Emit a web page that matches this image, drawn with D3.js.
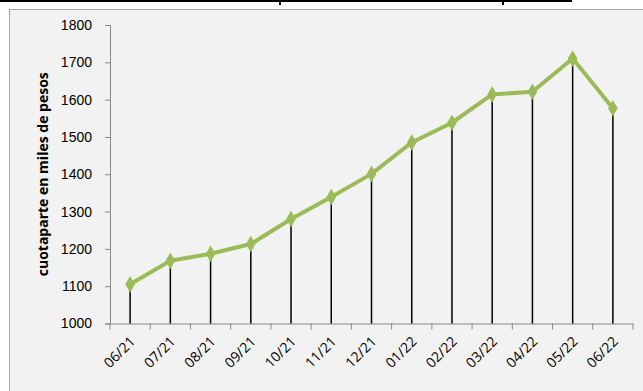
<!DOCTYPE html>
<html>
<head>
<meta charset="utf-8">
<script src="https://cdn.jsdelivr.net/npm/d3@7"></script>
<style>
  html, body { margin: 0; padding: 0; background: #ffffff; }
  svg { display: block; font-family: "Open Sans", "Noto Sans", sans-serif; }
</style>
</head>
<body>
<div id="chart"></div>
<script>
const months = ['06/21', '07/21', '08/21', '09/21', '10/21', '11/21', '12/21',
  '01/22', '02/22', '03/22', '04/22', '05/22', '06/22'];
const cuotaparte = [1105, 1168, 1187, 1213, 1280, 1339, 1401, 1485, 1538, 1614, 1621, 1710, 1577];
const yTicks = [1000, 1100, 1200, 1300, 1400, 1500, 1600, 1700, 1800];

const W = 643, H = 391;
const margin = { top: 25, right: 10, bottom: 67, left: 110 };

const svg = d3.select('#chart').append('svg')
  .attr('width', W)
  .attr('height', H);

// cut off title remains at the very top
svg.append('rect').attr('x', 0).attr('y', 0).attr('width', 572).attr('height', 2).attr('fill', '#000');
svg.append('rect').attr('x', 279).attr('y', 0).attr('width', 2).attr('height', 5).attr('fill', '#000');
svg.append('rect').attr('x', 502).attr('y', 0).attr('width', 2).attr('height', 5).attr('fill', '#000');

// chart frame
svg.append('rect')
  .attr('x', 9.5).attr('y', 9.5)
  .attr('width', W).attr('height', H)
  .attr('fill', '#f2f2f2')
  .attr('stroke', '#a6a6a6');

const width = 633 - margin.left;
const height = 323.5 - margin.top;

const g = svg.append('g')
  .attr('transform', `translate(${margin.left},${margin.top})`);

const x = d3.scaleBand()
  .domain(months)
  .range([0, width]);

const y = d3.scaleLinear()
  .domain([1000, 1800])
  .range([height, 0]);

// Y axis
const yAxis = g.append('g')
  .call(d3.axisLeft(y).tickValues(yTicks).tickSize(5).tickPadding(13).tickFormat(d3.format('d')));
yAxis.select('.domain').attr('stroke', '#868686');
yAxis.selectAll('line').attr('stroke', '#868686');
yAxis.selectAll('text')
  .style('fill', '#000')
  .style('font-size', '14px');

// X axis, ticks between categories
const xAxis = g.append('g')
  .attr('transform', `translate(0,${height})`)
  .call(d3.axisBottom(x).tickSize(0).tickFormat(''));
xAxis.select('.domain').attr('stroke', '#868686');
xAxis.selectAll('.tick').remove();

g.append('g')
  .selectAll('line')
  .data(d3.range(months.length + 1))
  .enter()
  .append('line')
  .attr('x1', i => i * x.step())
  .attr('x2', i => i * x.step())
  .attr('y1', height)
  .attr('y2', height + 6)
  .attr('stroke', '#868686');

// rotated month labels
g.append('g')
  .selectAll('text')
  .data(months)
  .enter()
  .append('text')
  .attr('transform', d => `translate(${x(d) + x.bandwidth() / 2 - 1},${height + 12}) rotate(-45)`)
  .attr('text-anchor', 'end')
  .attr('dy', '0.7em')
  .style('font-size', '14px')
  .style('fill', '#000')
  .text(d => d);

// drop lines
g.selectAll('.drop')
  .data(cuotaparte)
  .enter()
  .append('line')
  .attr('class', 'drop')
  .attr('x1', (d, i) => x(months[i]) + x.bandwidth() / 2)
  .attr('x2', (d, i) => x(months[i]) + x.bandwidth() / 2)
  .attr('y1', d => y(d))
  .attr('y2', height)
  .attr('stroke', '#000')
  .attr('stroke-width', 1.5);

// series line
const line = d3.line()
  .x((d, i) => x(months[i]) + x.bandwidth() / 2)
  .y(d => y(d));

g.append('path')
  .datum(cuotaparte)
  .attr('d', line)
  .attr('fill', 'none')
  .attr('stroke', '#9bbb59')
  .attr('stroke-width', 4)
  .attr('stroke-linejoin', 'round');

// markers
g.selectAll('.marker')
  .data(cuotaparte)
  .enter()
  .append('path')
  .attr('class', 'marker')
  .attr('transform', (d, i) => `translate(${x(months[i]) + x.bandwidth() / 2},${y(d)})`)
  .attr('d', d3.symbol().type(d3.symbolDiamond).size(80))
  .attr('fill', '#9bbb59');

// Y axis label
svg.append('text')
  .attr('transform', `translate(48,${margin.top + height / 2}) rotate(-90)`)
  .attr('text-anchor', 'middle')
  .style('font-size', '14px')
  .style('font-weight', 'bold')
  .style('fill', '#000')
  .text('cuotaparte en miles de pesos');
</script>
</body>
</html>
